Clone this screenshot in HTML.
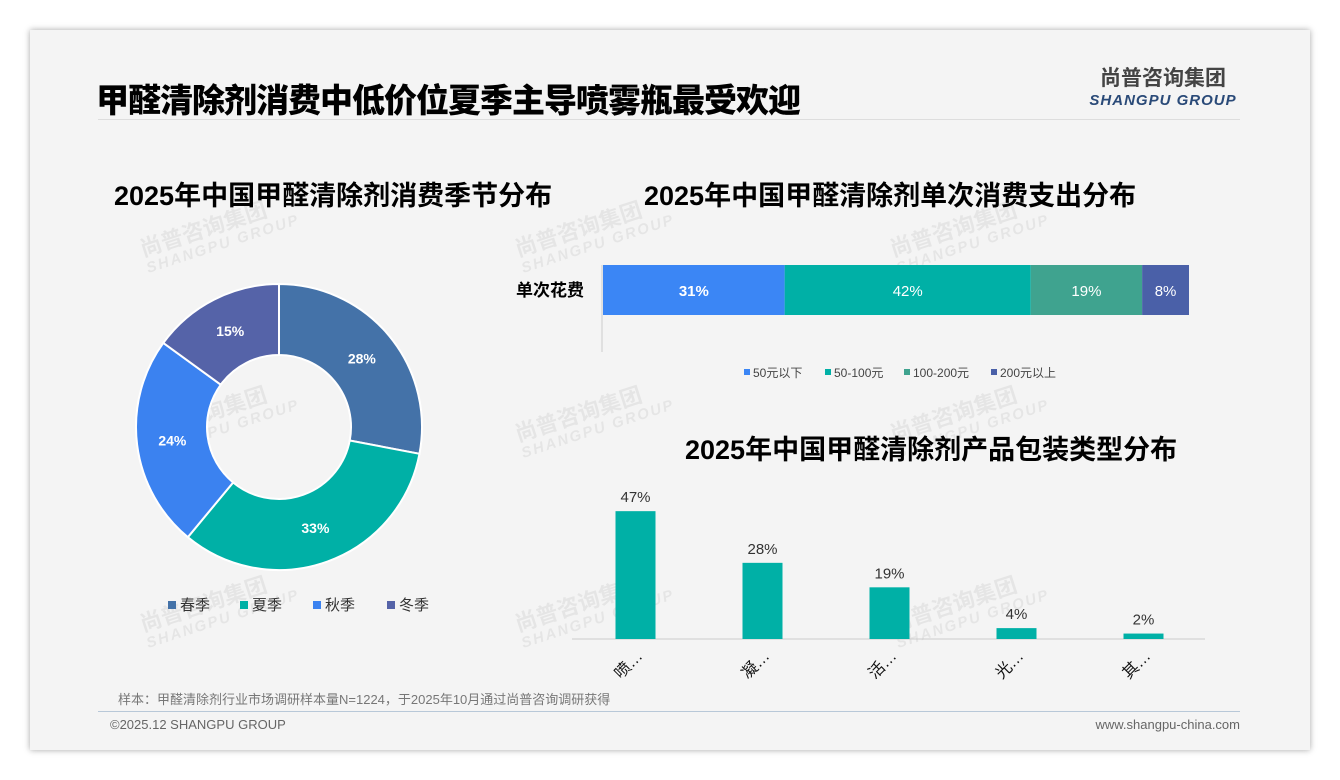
<!DOCTYPE html>
<html><head><meta charset="utf-8"><style>
body{margin:0;width:1340px;height:780px;background:#fff;font-family:"Liberation Sans","Noto Sans CJK SC",sans-serif;position:relative;overflow:hidden}
.card{position:absolute;left:30px;top:30px;width:1280px;height:720px;background:#f4f4f4;box-shadow:0 0 6px rgba(0,0,0,.35)}
.abs{position:absolute;white-space:nowrap}
.wm{position:absolute;color:rgba(0,0,0,0.06);font-weight:bold;transform:rotate(-18deg);font-size:22px;line-height:20px}
.wm span{display:block;font-size:15px;font-style:italic;letter-spacing:2px}
</style></head><body>
<div class="card"></div>
<div class="abs" style="left:96px;top:74px;font-size:33px;font-weight:900;color:#000;letter-spacing:-1px">甲醛清除剂消费中低价位夏季主导喷雾瓶最受欢迎</div>
<div class="abs" style="left:1088px;top:62px;width:150px;text-align:center">
<div style="font-size:21px;font-weight:bold;color:#444">尚普咨询集团</div>
<div style="font-size:15px;font-weight:bold;font-style:italic;color:#2a4a78;letter-spacing:1px">SHANGPU GROUP</div></div>
<div class="abs" style="left:98px;top:119px;width:1142px;height:1px;background:#ddd"></div>
<div class="wm" style="left:140px;top:215px">尚普咨询集团<span>SHANGPU GROUP</span></div>
<div class="wm" style="left:515px;top:215px">尚普咨询集团<span>SHANGPU GROUP</span></div>
<div class="wm" style="left:890px;top:215px">尚普咨询集团<span>SHANGPU GROUP</span></div>
<div class="wm" style="left:140px;top:400px">尚普咨询集团<span>SHANGPU GROUP</span></div>
<div class="wm" style="left:515px;top:400px">尚普咨询集团<span>SHANGPU GROUP</span></div>
<div class="wm" style="left:890px;top:400px">尚普咨询集团<span>SHANGPU GROUP</span></div>
<div class="wm" style="left:140px;top:590px">尚普咨询集团<span>SHANGPU GROUP</span></div>
<div class="wm" style="left:515px;top:590px">尚普咨询集团<span>SHANGPU GROUP</span></div>
<div class="wm" style="left:890px;top:590px">尚普咨询集团<span>SHANGPU GROUP</span></div>
<div class="abs" style="left:114px;top:174px;font-size:27px;font-weight:bold">2025年中国甲醛清除剂消费季节分布</div>
<div class="abs" style="left:644px;top:174px;font-size:27px;font-weight:bold">2025年中国甲醛清除剂单次消费支出分布</div>
<div class="abs" style="left:685px;top:428px;font-size:27px;font-weight:bold">2025年中国甲醛清除剂产品包装类型分布</div>
<svg class="abs" style="left:0;top:0" width="1340" height="780" id="svg"></svg>
<div class="abs" style="left:118px;top:689px;font-size:13px;color:#777">样本：甲醛清除剂行业市场调研样本量N=1224，于2025年10月通过尚普咨询调研获得</div>
<div class="abs" style="left:98px;top:711px;width:1142px;height:1px;background:#b8c8d8"></div>
<div class="abs" style="left:110px;top:717px;font-size:13px;color:#666">©2025.12 SHANGPU GROUP</div>
<div class="abs" style="right:100px;top:717px;font-size:13px;color:#666">www.shangpu-china.com</div>
<script>
const seasons=["春季","夏季","秋季","冬季"];
const seasonVals=[28,33,24,15];
const seasonColors=["#4472a8","#00b0a6","#3b82f0","#5563a8"];
const spendCats=["50元以下","50-100元","100-200元","200元以上"];
const spendVals=[31,42,19,8];
const spendColors=["#3b86f5","#00b0a6","#3fa38f","#4a60a8"];
const pkgCats=["喷…","凝…","活…","光…","其…"];
const pkgVals=[47,28,19,4,2];
const NS="http://www.w3.org/2000/svg";
const svg=document.getElementById('svg');
function mk(t,a,txt){const e=document.createElementNS(NS,t);for(const k in a)e.setAttribute(k,a[k]);if(txt!=null)e.textContent=txt;svg.appendChild(e);return e;}
const cx=279,cy=427,R=143,r=72;
let tot=seasonVals.reduce((a,b)=>a+b,0),acc=0;
seasonVals.forEach((v,i)=>{
 const a0=acc/tot*2*Math.PI,a1=(acc+v)/tot*2*Math.PI;acc+=v;
 const p=(a,rr)=>[cx+rr*Math.sin(a),cy-rr*Math.cos(a)];
 const [x0,y0]=p(a0,R),[x1,y1]=p(a1,R),[x2,y2]=p(a1,r),[x3,y3]=p(a0,r);
 const lg=(a1-a0)>Math.PI?1:0;
 const s=mk('path',{d:`M${x0},${y0}A${R},${R} 0 ${lg} 1 ${x1},${y1}L${x2},${y2}A${r},${r} 0 ${lg} 0 ${x3},${y3}Z`,fill:seasonColors[i],stroke:'#fff','stroke-width':2});
 
 
 const [lx,ly]=p((a0+a1)/2,(R+r)/2);
 const t=mk('text',{x:lx,y:ly+5,'text-anchor':'middle',fill:'#fff','font-size':14,'font-weight':'bold'},v+'%');
 
 
});
const lgx=[168,240,313,387];
seasons.forEach((s,i)=>{
 const m=mk('rect',{x:lgx[i],y:601,width:8,height:8,fill:seasonColors[i]});
 
 
 const t=mk('text',{x:lgx[i]+12,y:610,'font-size':15,fill:'#333'},s);
 
 
});
const sx0=603,sw=586,sy=265,sh=50;
mk('line',{x1:602,y1:265,x2:602,y2:352,stroke:'#ccc'});
const yl=mk('text',{x:584,y:296,'text-anchor':'end','font-size':17,'font-weight':'bold'},"单次花费");


let st=spendVals.reduce((a,b)=>a+b,0),sacc=0;
spendVals.forEach((v,i)=>{
 const x=sx0+sacc/st*sw,w=v/st*sw;sacc+=v;
 const b=mk('rect',{x:x,y:sy,width:w,height:sh,fill:spendColors[i]});
 
 
 const t=mk('text',{x:x+w/2,y:sy+31,'text-anchor':'middle',fill:'#fff','font-size':15,'font-weight':i==0?'bold':'normal'},v+'%');
 
 
});
const slx=[744,825,904,991];
spendCats.forEach((s,i)=>{
 const m=mk('rect',{x:slx[i],y:369,width:6,height:6,fill:spendColors[i]});
 
 
 const t=mk('text',{x:slx[i]+9,y:377,'font-size':12,fill:'#444'},s);
 
 
});
const base=639,scale=2.72,bx0=572,bw=633,step=127,barW=40;
mk('line',{x1:bx0,y1:base,x2:bx0+bw,y2:base,stroke:'#ccc'});
pkgVals.forEach((v,i)=>{
 const c=bx0+63.5+i*step,h=v*scale;
 const b=mk('rect',{x:c-barW/2,y:base-h,width:barW,height:h,fill:'#00b0a6'});
 
 
 const t=mk('text',{x:c,y:base-h-9,'text-anchor':'middle','font-size':15,fill:'#333'},v+'%');
 
 
 const l=mk('text',{x:c+8,y:657,'text-anchor':'end','font-size':16,fill:'#111',transform:`rotate(-45 ${c+8} 657)`},pkgCats[i]);
 
 
});
</script>
</body></html>
